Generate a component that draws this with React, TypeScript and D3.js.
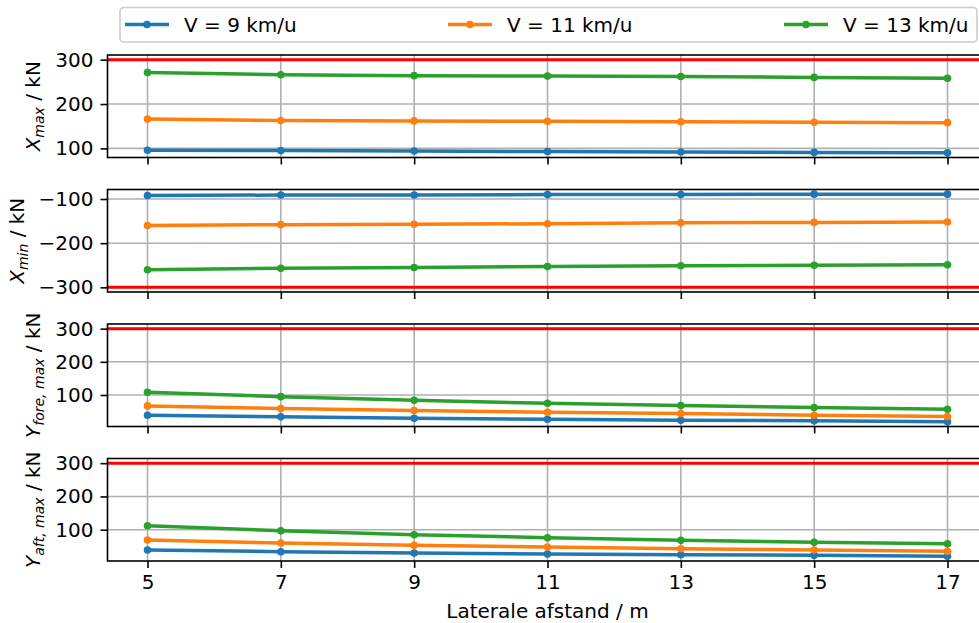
import { useEffect, useRef } from 'react';
import * as d3 from 'd3';

const W = 979;
const H = 623;
const FONT = 'DejaVu Sans, sans-serif';

// laterale afstand (m)
const afstand = [5, 7, 9, 11, 13, 15, 17];
const xTicks = [5, 7, 9, 11, 13, 15, 17];

const speeds = ['V = 9 km/u', 'V = 11 km/u', 'V = 13 km/u'];
const colors = ['#1f77b4', '#ff7f0e', '#2ca02c'];

// X max (kN)
const xMax9 = [96, 95, 94, 93, 92, 91, 90];
const xMax11 = [166, 163, 162, 161, 160, 159, 158];
const xMax13 = [271, 266, 264, 263, 262, 260, 258];

// X min (kN)
const xMin9 = [-92, -91, -91, -90, -90, -89, -89];
const xMin11 = [-160, -158, -157, -156, -154, -153, -152];
const xMin13 = [-260, -257, -255, -253, -251, -250, -249];

// Y fore max (kN)
const yFore9 = [39, 34, 30, 27, 24, 22, 19];
const yFore11 = [67, 59, 53, 48, 44, 39, 35];
const yFore13 = [108, 95, 84, 75, 68, 62, 57];

// Y aft max (kN)
const yAft9 = [39, 34, 30, 27, 25, 23, 20];
const yAft11 = [69, 60, 53, 48, 43, 39, 35];
const yAft13 = [112, 97, 85, 76, 68, 62, 58];

// grenswaarden
const limits = [300, -300, 300, 300];
const yTicks = [
    [100, 200, 300],
    [-300, -200, -100],
    [100, 200, 300],
    [100, 200, 300]
];

const panels = [
    { sub: 'max', series: [xMax9, xMax11, xMax13], letter: 'X' },
    { sub: 'min', series: [xMin9, xMin11, xMin13], letter: 'X' },
    { sub: 'fore, max', series: [yFore9, yFore11, yFore13], letter: 'Y' },
    { sub: 'aft, max', series: [yAft9, yAft11, yAft13], letter: 'Y' }
];

// layout
const ml = 107.5;
const mr = 987.5; // axes runs a bit past the picture edge
const panelTops = [55, 189.5, 324, 458.5];
const panelH = 102.5;
const legendX = [125, 448, 784];

export default function App() {
    const ref = useRef<SVGSVGElement>(null);

    useEffect(() => {
        const svg = d3.select(ref.current);
        svg.selectAll('*').remove();

        const xScale = d3.scaleLinear().domain([4.4, 17.6]).range([ml, mr]);

        const defs = svg.append('defs');

        panels.forEach((p, i) => {
            const top = panelTops[i];
            const bottom = top + panelH;
            const all = [...p.series.flat(), limits[i]];
            const [lo, hi] = d3.extent(all) as [number, number];
            const pad = (hi - lo) * 0.05;
            const yScale = d3.scaleLinear().domain([lo - pad, hi + pad]).range([bottom, top]);

            defs.append('clipPath')
                .attr('id', `clip${i}`)
                .append('rect')
                .attr('x', ml)
                .attr('y', top)
                .attr('width', mr - ml)
                .attr('height', panelH);

            const g = svg.append('g');

            // grid
            g.append('g')
                .selectAll('line')
                .data(xTicks)
                .join('line')
                .attr('x1', (d) => xScale(d))
                .attr('x2', (d) => xScale(d))
                .attr('y1', top)
                .attr('y2', bottom)
                .attr('stroke', '#b0b0b0')
                .attr('stroke-width', 1.6);
            g.append('g')
                .selectAll('line')
                .data(yTicks[i])
                .join('line')
                .attr('x1', ml)
                .attr('x2', mr)
                .attr('y1', (d) => yScale(d))
                .attr('y2', (d) => yScale(d))
                .attr('stroke', '#b0b0b0')
                .attr('stroke-width', 1.6);

            const plot = g.append('g').attr('clip-path', `url(#clip${i})`);

            const line = d3
                .line<number>()
                .x((_d, j) => xScale(afstand[j]))
                .y((d) => yScale(d));

            p.series.forEach((s, k) => {
                plot.append('path')
                    .datum(s)
                    .attr('fill', 'none')
                    .attr('stroke', colors[k])
                    .attr('stroke-width', 3.5)
                    .attr('stroke-linejoin', 'round')
                    .attr('d', line);
                plot.append('g')
                    .selectAll('circle')
                    .data(s)
                    .join('circle')
                    .attr('cx', (_d, j) => xScale(afstand[j]))
                    .attr('cy', (d) => yScale(d))
                    .attr('r', 3.8)
                    .attr('fill', colors[k]);
            });

            // red limit
            plot.append('line')
                .attr('x1', ml)
                .attr('x2', mr)
                .attr('y1', yScale(limits[i]))
                .attr('y2', yScale(limits[i]))
                .attr('stroke', '#ff0000')
                .attr('stroke-width', 3);

            // axes
            const yAxis = d3.axisLeft(yScale).tickValues(yTicks[i]).tickSize(7).tickPadding(7);
            const yAxisG = g
                .append('g')
                .attr('transform', `translate(${ml},0)`)
                .call(yAxis)
                .call((a) => a.select('.domain').remove())
                .call((a) => a.selectAll('.tick line').attr('stroke', '#000').attr('stroke-width', 1.6))
                .call((a) => a.selectAll('.tick text').attr('font-family', FONT).attr('font-size', 20).attr('fill', '#000'));

            const xAxis = d3.axisBottom(xScale).tickValues(xTicks).tickSize(7).tickPadding(7).tickFormat(d3.format('d'));
            g.append('g')
                .attr('transform', `translate(0,${bottom})`)
                .call(xAxis)
                .call((a) => a.select('.domain').remove())
                .call((a) => a.selectAll('.tick line').attr('stroke', '#000').attr('stroke-width', 1.6))
                .call((a) =>
                    i === panels.length - 1
                        ? a.selectAll('.tick text').attr('font-family', FONT).attr('font-size', 20).attr('fill', '#000')
                        : a.selectAll('.tick text').remove()
                );

            // spines
            g.append('rect')
                .attr('x', ml)
                .attr('y', top)
                .attr('width', mr - ml)
                .attr('height', panelH)
                .attr('fill', 'none')
                .attr('stroke', '#000')
                .attr('stroke-width', 1.6);

            // y label, placed left of the widest tick label
            let tickLeft = ml;
            yAxisG.selectAll<SVGTextElement, number>('.tick text').each(function () {
                const b = this.getBBox();
                tickLeft = Math.min(tickLeft, ml + b.x);
            });
            const lbl = g
                .append('text')
                .attr('transform', `translate(${tickLeft - 15},${top + panelH / 2}) rotate(-90)`)
                .attr('text-anchor', 'middle')
                .attr('font-family', FONT)
                .attr('font-size', 20)
                .attr('fill', '#000');
            lbl.append('tspan').attr('font-style', 'italic').text(p.letter);
            lbl.append('tspan').attr('font-style', 'italic').attr('font-size', 14).attr('dy', 4).text(p.sub);
            lbl.append('tspan').attr('dy', -4).text(' / kN');
        });

        svg.append('text')
            .attr('x', (ml + mr) / 2)
            .attr('y', 618)
            .attr('text-anchor', 'middle')
            .attr('font-family', FONT)
            .attr('font-size', 20)
            .attr('fill', '#000')
            .text('Laterale afstand / m');

        // legend
        const leg = svg.append('g');
        leg.append('rect')
            .attr('x', 120)
            .attr('y', 7.5)
            .attr('width', 857)
            .attr('height', 34.5)
            .attr('rx', 4)
            .attr('fill', 'rgba(255,255,255,0.8)')
            .attr('stroke', '#cccccc')
            .attr('stroke-width', 1.6);
        speeds.forEach((s, k) => {
            const x0 = legendX[k];
            leg.append('line')
                .attr('x1', x0)
                .attr('x2', x0 + 44)
                .attr('y1', 24.5)
                .attr('y2', 24.5)
                .attr('stroke', colors[k])
                .attr('stroke-width', 3.5);
            leg.append('circle').attr('cx', x0 + 22).attr('cy', 24.5).attr('r', 3.8).attr('fill', colors[k]);
            leg.append('text')
                .attr('x', x0 + 59)
                .attr('y', 31.5)
                .attr('font-family', FONT)
                .attr('font-size', 20)
                .attr('fill', '#000')
                .text(s);
        });
    }, []);

    return (
        <div>
            <style>{'body{margin:0}'}</style>
            <svg ref={ref} width={W} height={H} style={{ display: 'block', background: '#fff' }} />
        </div>
    );
}
